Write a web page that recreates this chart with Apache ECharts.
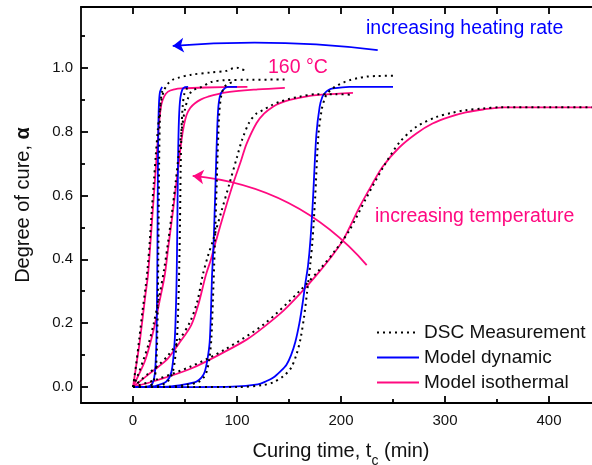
<!DOCTYPE html>
<html>
<head>
<meta charset="utf-8">
<title>Degree of cure</title>
<style>
  html, body, #chart {width: 592px; height: 465px; margin: 0; overflow: hidden; background: #fff;}
</style>
<script src="https://cdn.jsdelivr.net/npm/echarts@6/dist/echarts.min.js"></script>
</head>
<body>
<div id="chart"></div>
<script>
// ---- data: [curing time (min), degree of cure] ----
var isoModel1 = [[0,0],[3,0.065],[6.4,0.14],[9.6,0.225],[12,0.29],[14.4,0.35],[16.5,0.44],[18.5,0.53],[20.5,0.62],[22.5,0.71],[24,0.78],[25.5,0.84],[27.3,0.885],[30,0.91],[33.7,0.925],[40,0.932],[46.5,0.935],[70,0.938],[110,0.94]];
var isoModel2 = [[0,0],[5,0.035],[11.3,0.08],[16,0.13],[20.9,0.194],[25,0.26],[30.5,0.35],[34,0.44],[38,0.54],[41,0.62],[44,0.7],[46.5,0.77],[49,0.82],[51.5,0.852],[55,0.874],[59.3,0.888],[65,0.9],[72,0.909],[88,0.922],[120,0.932],[146,0.937]];
var isoModel3 = [[0,0],[14.4,0.038],[25,0.065],[33.7,0.09],[45,0.14],[56,0.194],[63,0.26],[70,0.35],[75,0.4],[80,0.46],[88,0.55],[96.4,0.638],[104,0.71],[109,0.76],[118.7,0.826],[126,0.856],[134.6,0.878],[142,0.89],[150.7,0.899],[162,0.907],[176.3,0.914],[195,0.918],[211.5,0.921]];
var isoModel4 = [[0,0],[24,0.022],[56,0.058],[88,0.11],[110,0.15],[126.6,0.19],[145,0.24],[160,0.29],[175,0.345],[190,0.405],[202,0.46],[218,0.565],[230,0.635],[240,0.69],[256,0.75],[272.5,0.794],[288,0.825],[304.5,0.846],[320,0.86],[336.5,0.869],[356,0.876],[400,0.876],[450,0.876]];

var dynModel1 = [[0,0],[10,0],[15,0.002],[17.7,0.006],[19.5,0.018],[20.9,0.04],[21.8,0.08],[22.5,0.14],[23,0.25],[23.4,0.38],[23.7,0.55],[24,0.71],[24.4,0.82],[25,0.89],[26,0.925],[28,0.94]];
var dynModel2 = [[0,0],[20,0.002],[24,0.006],[32,0.017],[37,0.048],[40,0.14],[41.3,0.25],[42,0.35],[42.6,0.5],[43.3,0.71],[44.2,0.84],[45.5,0.905],[47.5,0.932],[50,0.939],[53,0.94]];
var dynModel3 = [[0,0],[33.7,0.001],[49.7,0.008],[61,0.017],[66,0.03],[69,0.048],[71.5,0.085],[73.7,0.14],[75,0.24],[76,0.35],[77.5,0.45],[79,0.6],[80,0.71],[81.7,0.86],[83.5,0.91],[86.6,0.93],[91,0.94],[100,0.94]];
var dynModel4 = [[0,0],[60,0],[96,0.001],[120,0.008],[128,0.018],[135,0.03],[142,0.05],[147.6,0.07],[152,0.1],[156,0.14],[160,0.2],[163,0.26],[165.5,0.32],[168.3,0.38],[170.6,0.46],[173,0.585],[176.3,0.79],[179.5,0.878],[182,0.908],[184.3,0.92],[188,0.93],[192.3,0.935],[208,0.94],[250,0.94]];

var dscIso1 = [[0,0],[3,0.07],[6,0.15],[9,0.235],[12,0.31],[14,0.37],[16,0.45],[18,0.55],[20,0.64],[22,0.73],[24,0.81],[25.5,0.86],[27.3,0.9],[30,0.93],[33.6,0.95],[38,0.962],[43,0.968],[56,0.978],[75,0.985],[90,0.99],[96,0.998],[100,1.0],[104,0.995],[110,0.99]];
var dscIso2 = [[0,0],[5,0.04],[10,0.085],[15,0.135],[20,0.2],[25,0.28],[30,0.37],[34,0.46],[38,0.56],[41,0.64],[44,0.73],[47,0.81],[50,0.87],[53,0.905],[56,0.925],[60,0.933],[66,0.94],[75,0.955],[88,0.961],[110,0.962],[147,0.963]];
var dscIso3 = [[0,0],[14,0.04],[25,0.07],[34,0.1],[45,0.15],[55,0.205],[62,0.27],[67,0.35],[72,0.41],[77,0.46],[85,0.55],[93,0.64],[100,0.72],[105,0.775],[112,0.83],[119,0.857],[125,0.867],[133,0.882],[141,0.893],[150,0.902],[160,0.909],[176,0.917],[195,0.917],[212,0.915]];
var dscIso4 = [[0,0],[24,0.025],[56,0.065],[88,0.117],[126,0.197],[160,0.3],[180,0.37],[195,0.43],[208,0.49],[224,0.59],[240,0.685],[256,0.765],[272.5,0.815],[292,0.846],[306,0.858],[320,0.867],[336,0.872],[352,0.876],[400,0.876],[450,0.876]];

var dscDyn1 = [[0,0],[12,0],[17,0.005],[20,0.02],[21.8,0.05],[23,0.12],[23.8,0.25],[24.3,0.4],[24.7,0.55],[25.1,0.7],[25.7,0.82],[26.5,0.89],[28,0.925],[30,0.935]];
var dscDyn2 = [[0,0],[22,0.002],[28,0.007],[34,0.02],[38.5,0.05],[42,0.14],[43.6,0.26],[44.5,0.38],[45.2,0.52],[45.8,0.68],[46.6,0.8],[47.8,0.88],[49.5,0.92],[52,0.935],[55,0.94]];
var dscDyn3 = [[0,0],[35,0.001],[52,0.007],[63,0.016],[68,0.03],[71,0.05],[73.5,0.09],[75.3,0.15],[76.8,0.27],[78,0.38],[79.2,0.5],[80.5,0.64],[81.7,0.76],[83,0.86],[85,0.915],[88,0.94],[92,0.95],[96,0.955]];
var dscDyn4 = [[0,0],[60,0],[100,0],[125,0.006],[135,0.015],[145,0.035],[152,0.06],[157,0.1],[161,0.15],[164.5,0.22],[167.5,0.3],[170.3,0.38],[172.6,0.46],[175,0.585],[178.3,0.79],[181.5,0.87],[184,0.9],[186,0.915],[190,0.93],[195.6,0.943],[202,0.953],[208.4,0.961],[216,0.967],[224.4,0.972],[235,0.974],[250,0.975]];

// annotation arrows (start, end) in data units
var heatArrow = [[235.3,1.055],[38.2,1.068]];
var tempArrow = [[224.7,0.382],[57.4,0.661]];

var xMajor = [0,100,200,300,400];
var xMinor = [50,150,250,350];
var xTop = [0,50,100,150,200,250,300,350,400];
var yMajor = [0,0.2,0.4,0.6,0.8,1.0];
var yMinor = [0.1,0.3,0.5,0.7,0.9,1.1];

var FONT = '"Liberation Sans", Arial, sans-serif';
var blue = '#0000ff', pink = '#ff0a80', black = '#000';

function curve(name, data, color, dotted) {
    return {
        name: name, type: 'line', data: data,
        xAxisIndex: 0, yAxisIndex: 0,
        symbol: 'none', smooth: 0.3,
        silent: true, z: dotted ? 5 : 3,
        itemStyle: {color: color},
        lineStyle: {color: color, width: dotted ? 2 : 1.8, type: dotted ? [2, 4] : 'solid'}
    };
}

var series = [];
[isoModel1, isoModel2, isoModel3, isoModel4].forEach(function (d) { series.push(curve('Model isothermal', d, pink, false)); });
[dynModel1, dynModel2, dynModel3, dynModel4].forEach(function (d) { series.push(curve('Model dynamic', d, blue, false)); });
[dscIso1, dscIso2, dscIso3, dscIso4, dscDyn1, dscDyn2, dscDyn3, dscDyn4].forEach(function (d) { series.push(curve('DSC Measurement', d, black, true)); });

series.push({
    type: 'lines', coordinateSystem: 'cartesian2d', xAxisIndex: 0, yAxisIndex: 0,
    symbol: ['none', 'arrow'], symbolSize: 11, silent: true,
    lineStyle: {color: blue, width: 1.8, curveness: -0.05, opacity: 1},
    data: [{coords: heatArrow}]
});
series.push({
    type: 'lines', coordinateSystem: 'cartesian2d', xAxisIndex: 0, yAxisIndex: 0,
    symbol: ['none', 'arrow'], symbolSize: 11, silent: true,
    lineStyle: {color: pink, width: 1.8, curveness: -0.2, opacity: 1},
    data: [{coords: tempArrow}]
});

var axisLineStyle = {color: black, width: 1.8};

var chart = echarts.init(document.getElementById('chart'), null, {renderer: 'canvas'});
chart.setOption({
    animation: false,
    backgroundColor: '#fff',
    textStyle: {fontFamily: FONT},
    grid: {left: 81, top: 7, right: -9, bottom: 62, outerBoundsMode: 'none', containLabel: false},
    legend: {
        orient: 'vertical', left: 376, top: 323, padding: 0,
        itemWidth: 42, itemHeight: 14, itemGap: 6,
        data: ['DSC Measurement', 'Model dynamic', 'Model isothermal'],
        itemStyle: {opacity: 0},
        textStyle: {fontFamily: FONT, fontSize: 19, color: '#111'},
        selectedMode: false
    },
    xAxis: [{
        type: 'value', min: -50, max: 450, position: 'bottom',
        name: 'Curing time, t{sub|c} (min)', nameLocation: 'middle', nameGap: 31,
        nameTextStyle: {
            fontFamily: FONT, fontSize: 20, color: '#111', lineHeight: 34,
            rich: {sub: {fontFamily: FONT, fontSize: 14, color: '#111', lineHeight: 34, verticalAlign: 'bottom'}}
        },
        axisLine: {onZero: false, lineStyle: axisLineStyle},
        axisTick: {inside: true, length: 7, customValues: xMajor, lineStyle: axisLineStyle},
        axisLabel: {customValues: xMajor, fontSize: 15, color: '#111', margin: 10, fontFamily: FONT},
        splitLine: {show: false}
    }, {
        type: 'value', min: -50, max: 450, position: 'bottom',
        axisLine: {show: false, onZero: false},
        axisTick: {inside: true, length: 4, customValues: xMinor, lineStyle: axisLineStyle},
        axisLabel: {show: false}, splitLine: {show: false}
    }, {
        type: 'value', min: -50, max: 450, position: 'top',
        axisLine: {onZero: false, lineStyle: axisLineStyle},
        axisTick: {inside: true, length: 7, customValues: xTop, lineStyle: axisLineStyle},
        axisLabel: {show: false}, splitLine: {show: false}
    }],
    yAxis: [{
        type: 'value', min: -0.05, max: 1.19, position: 'left',
        name: 'Degree of cure, {b|α}', nameLocation: 'middle', nameGap: 48,
        nameTextStyle: {
            fontFamily: FONT, fontSize: 20, color: '#111',
            rich: {b: {fontFamily: FONT, fontSize: 20, fontWeight: 'bold', color: '#111'}}
        },
        axisLine: {onZero: false, lineStyle: axisLineStyle},
        axisTick: {inside: true, length: 7, customValues: yMajor, lineStyle: axisLineStyle},
        axisLabel: {
            customValues: yMajor, fontSize: 15, color: '#111', margin: 8, fontFamily: FONT,
            formatter: function (v) { return v.toFixed(1); }
        },
        splitLine: {show: false}
    }, {
        type: 'value', min: -0.05, max: 1.19, position: 'left',
        axisLine: {show: false, onZero: false},
        axisTick: {inside: true, length: 4, customValues: yMinor, lineStyle: axisLineStyle},
        axisLabel: {show: false}, splitLine: {show: false}
    }],
    graphic: [
        {type: 'text', left: 366, top: 19, silent: true,
         style: {text: 'increasing heating rate', fill: blue, font: '19.5px ' + FONT}},
        {type: 'text', left: 268, top: 58, silent: true,
         style: {text: '160 °C', fill: pink, font: '19.5px ' + FONT}},
        {type: 'text', left: 375, top: 207, silent: true,
         style: {text: 'increasing temperature', fill: pink, font: '19.5px ' + FONT}}
    ],
    series: series
});
</script>
</body>
</html>
